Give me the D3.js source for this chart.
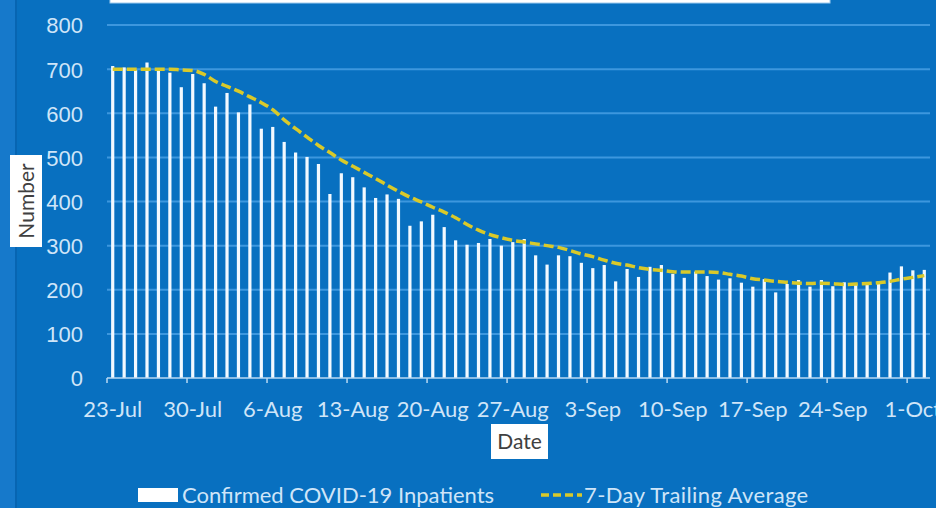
<!DOCTYPE html>
<html>
<head>
<meta charset="utf-8">
<script src="https://cdn.jsdelivr.net/npm/d3@7"></script>
<style>
  html, body { margin: 0; padding: 0; background: #0870c0; }
  svg { display: block; font-family: "Lato", "Open Sans", sans-serif; }
</style>
</head>
<body>
<svg id="chart" width="936" height="508"></svg>
<script>
// daily confirmed inpatients, 23-Jul to 2-Oct
var inpatients = [
  707, 704, 698, 715, 699, 692, 659, 689, 668, 615, 646, 602, 620, 565,
  569, 535, 511, 501, 485, 417, 464, 455, 432, 408, 416, 406, 345, 355,
  370, 342, 312, 302, 306, 315, 300, 308, 315, 278, 257, 278, 276, 261,
  249, 256, 219, 247, 229, 252, 256, 236, 227, 241, 231, 223, 226, 216,
  207, 224, 194, 213, 222, 207, 222, 208, 217, 214, 211, 219, 239, 253,
  244, 245
];

// 7-day trailing average
var trailingAvg = [
  700, 700, 700, 700, 700, 700, 698, 697, 688, 672, 661, 650, 637, 624,
  608, 585, 565, 546, 527, 511, 494, 480, 466, 452, 437, 423, 410, 399,
  387, 376, 363, 348, 335, 325, 318, 312, 308, 304, 300, 296, 289, 281,
  275, 267, 260, 256, 250, 246, 244, 241, 240, 240, 240, 239, 235, 231,
  225, 222, 219, 217, 215, 214, 215, 214, 212, 213, 214, 216, 219, 224,
  228, 232
];

var tickLabels = ["23-Jul", "30-Jul", "6-Aug", "13-Aug", "20-Aug", "27-Aug",
  "3-Sep", "10-Sep", "17-Sep", "24-Sep", "1-Oct"];
var yTicks = [0, 100, 200, 300, 400, 500, 600, 700, 800];

var days = d3.range(inpatients.length);

var svg = d3.select("#chart");

var bgColor = "#0870c0";
var gridColor = "#3d97de";
var labelColor = "#cfe5f8";
var lineColor = "#d9c92a";
var fontSize = "22px";

svg.append("rect")
  .attr("width", 936).attr("height", 508)
  .attr("fill", bgColor);

// lighter strip at the left edge
svg.append("rect")
  .attr("x", 0).attr("y", 0).attr("width", 15).attr("height", 508)
  .attr("fill", "#1679cb");
svg.append("rect")
  .attr("x", 15).attr("y", 0).attr("width", 2).attr("height", 508)
  .attr("fill", "#0765b2");

// bottom edge of the title box, cut off
svg.append("rect")
  .attr("x", 110).attr("y", -6).attr("width", 720).attr("height", 9)
  .attr("fill", "#ffffff").attr("stroke", "#9fcbee").attr("stroke-width", 1);

var x = d3.scaleBand()
  .domain(days)
  .range([107, 930])
  .paddingInner(0.72)
  .paddingOuter(0.36);

var y = d3.scaleLinear()
  .domain([0, 800])
  .range([378, 25]);

// gridlines
svg.append("g")
  .selectAll("line")
  .data(yTicks.filter(function(d) { return d > 0; }))
  .enter().append("line")
  .attr("x1", 107).attr("x2", 930)
  .attr("y1", function(d) { return y(d); })
  .attr("y2", function(d) { return y(d); })
  .attr("stroke", gridColor)
  .attr("stroke-width", 2);

// y axis labels
var yAxis = d3.axisLeft(y).tickValues(yTicks).tickSize(0).tickPadding(0);
var gy = svg.append("g")
  .attr("transform", "translate(83,0)")
  .call(yAxis);
gy.select(".domain").remove();
gy.selectAll("text")
  .attr("fill", labelColor)
  .style("font-size", fontSize)
  .attr("dy", "0.36em");

// bars
svg.append("g")
  .selectAll("rect")
  .data(inpatients)
  .enter().append("rect")
  .attr("x", function(d, i) { return x(i); })
  .attr("width", x.bandwidth())
  .attr("y", function(d) { return y(d); })
  .attr("height", function(d) { return y(0) - y(d); })
  .attr("fill", "#f2f9ff");

// x axis line, ticks at the start of every 7th day
var gap = (x.step() - x.bandwidth()) / 2;
var xAxisG = svg.append("g");
xAxisG.append("line")
  .attr("x1", 107).attr("x2", 930)
  .attr("y1", y(0)).attr("y2", y(0))
  .attr("stroke", "#b9d9f3").attr("stroke-width", 1.5);

var labelDays = days.filter(function(d) { return d % 7 === 0; });
xAxisG.selectAll(".tick")
  .data(labelDays)
  .enter().append("line")
  .attr("x1", function(d) { return x(d) - gap; })
  .attr("x2", function(d) { return x(d) - gap; })
  .attr("y1", y(0)).attr("y2", y(0) + 5)
  .attr("stroke", "#b9d9f3").attr("stroke-width", 1.5);

xAxisG.selectAll("text")
  .data(labelDays)
  .enter().append("text")
  .attr("x", function(d) { return x(d) + x.bandwidth() / 2; })
  .attr("y", 417)
  .attr("text-anchor", "middle")
  .attr("fill", labelColor)
  .style("font-size", fontSize)
  .text(function(d, i) { return tickLabels[i]; });

// trailing average line
var line = d3.line()
  .x(function(d, i) { return x(i) + x.bandwidth() / 2; })
  .y(function(d) { return y(d); })
  .curve(d3.curveMonotoneX);

svg.append("path")
  .datum(trailingAvg)
  .attr("d", line)
  .attr("fill", "none")
  .attr("stroke", lineColor)
  .attr("stroke-width", 3.5)
  .attr("stroke-dasharray", "10,4");

// axis titles
svg.append("rect")
  .attr("x", 10).attr("y", 155).attr("width", 32).attr("height", 92)
  .attr("fill", "#ffffff");
svg.append("text")
  .attr("transform", "translate(34,201) rotate(-90)")
  .attr("text-anchor", "middle")
  .attr("fill", "#404040")
  .style("font-size", "21px")
  .text("Number");

svg.append("rect")
  .attr("x", 491).attr("y", 424).attr("width", 57).attr("height", 35)
  .attr("fill", "#ffffff");
svg.append("text")
  .attr("x", 519.5).attr("y", 449)
  .attr("text-anchor", "middle")
  .attr("fill", "#404040")
  .style("font-size", "21px")
  .text("Date");

// legend
var legend = svg.append("g");
legend.append("rect")
  .attr("x", 138).attr("y", 488).attr("width", 40).attr("height", 14)
  .attr("fill", "#ffffff");
legend.append("text")
  .attr("x", 182).attr("y", 503)
  .attr("fill", labelColor)
  .style("font-size", fontSize)
  .text("Confirmed COVID-19 Inpatients");
legend.append("line")
  .attr("x1", 541).attr("x2", 582)
  .attr("y1", 495).attr("y2", 495)
  .attr("stroke", lineColor)
  .attr("stroke-width", 3.5)
  .attr("stroke-dasharray", "8,4");
legend.append("text")
  .attr("x", 584).attr("y", 503)
  .attr("fill", labelColor)
  .style("font-size", fontSize)
  .style("letter-spacing", "0.4px")
  .text("7-Day Trailing Average");
</script>
</body>
</html>
